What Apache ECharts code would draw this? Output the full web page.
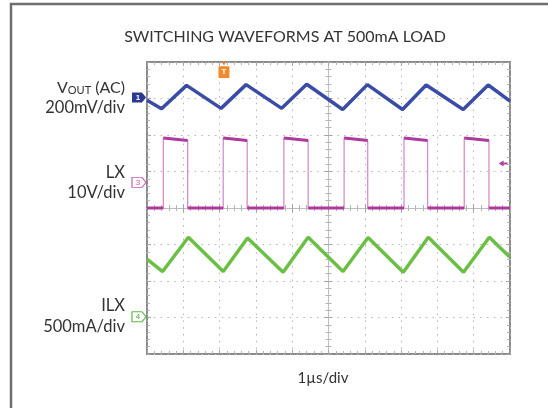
<!DOCTYPE html>
<html><head><meta charset="utf-8">
<script src="https://cdn.jsdelivr.net/npm/echarts@6/dist/echarts.min.js"></script>
<style>html,body{margin:0;padding:0;background:#fff}#c{width:548px;height:408px}</style>
</head><body><div id="c"></div>
<script>
// ---- data (time in µs relative to screen centre, amplitude in divisions from centre) ----
var titleText = 'SWITCHING WAVEFORMS AT 500mA LOAD';
var timeLabel = '1\u00b5s/div';
// VOUT (AC), 200mV/div
var voutT = [-5, -4.60, -3.91, -2.96, -2.27, -1.29, -0.60, 0.39, 1.07, 2.04, 2.69, 3.71, 4.40, 5];
var voutV = [2.95, 2.72, 3.36, 2.73, 3.38, 2.73, 3.39, 2.70, 3.38, 2.70, 3.37, 2.70, 3.37, 2.93];
// LX, 10V/div : switching edges
var lxRise = [-4.55, -2.90, -1.23, 0.43, 2.08, 3.74];
var lxFall = [-3.88, -2.24, -0.56, 1.08, 2.73, 4.42];
var lxHighStart = 1.92, lxHighEnd = 1.85, lxLow = 0.0;
// ILX, 500mA/div
var ilxT = [-5, -4.57, -3.86, -2.90, -2.23, -1.25, -0.56, 0.40, 1.09, 2.06, 2.75, 3.72, 4.43, 5];
var ilxV = [-1.40, -1.74, -0.80, -1.74, -0.82, -1.76, -0.80, -1.74, -0.81, -1.76, -0.80, -1.76, -0.80, -1.35];
// channel ground markers / trigger
var ch1Ground = 3.03, ch3Ground = 0.70, ch4Ground = -2.98;
var trigTime = -2.88, trigLevel = 1.22;

// ---- build series data ----
var voutData = voutT.map(function(t, i){ return [t, voutV[i]]; });
var ilxData = ilxT.map(function(t, i){ return [t, ilxV[i]]; });
var lxFull = [[-5, lxLow]];
var lxLevels = [[-5, lxLow]];
for (var i = 0; i < lxRise.length; i++) {
  lxFull.push([lxRise[i], lxLow], [lxRise[i], lxHighStart], [lxFall[i], lxHighEnd], [lxFall[i], lxLow]);
  lxLevels.push([lxRise[i], lxLow], [lxRise[i], null], [lxRise[i], lxHighStart], [lxFall[i], lxHighEnd], [lxFall[i], null], [lxFall[i], lxLow]);
}
lxFull.push([5, lxLow]);
lxLevels.push([5, lxLow]);

var FONT = 'Lato, "Open Sans", sans-serif';
var gridCol = '#b4b4b4';
function xAx(pos, onZero, show){
  return {type:'value', min:-5, max:5, interval:1, position:pos,
    axisLine:{show:onZero, onZero:onZero, lineStyle:{color:'#bdbdbd', width:1}},
    axisTick:{show:true, inside:true, length:4, lineStyle:{color:'#a5a5a5'}},
    minorTick:{show:true, splitNumber:5, length:3, lineStyle:{color:'#b5b5b5'}},
    axisLabel:{show:false},
    splitLine:{show:show, lineStyle:{color:gridCol, type:[1.5,5.3], width:1}}};
}
function yAx(pos, onZero, show){
  return {type:'value', min:-4, max:4, interval:1, position:pos,
    axisLine:{show:onZero, onZero:onZero, lineStyle:{color:'#bdbdbd', width:1}},
    axisTick:{show:true, inside:true, length:4, lineStyle:{color:'#a5a5a5'}},
    minorTick:{show:true, splitNumber:5, length:3, lineStyle:{color:'#b5b5b5'}},
    axisLabel:{show:false},
    splitLine:{show:show, lineStyle:{color:gridCol, type:[1.5,5.3], width:1}}};
}
var flag = 'path://M0,0 L10,0 L14,5 L10,10 L0,10 Z';
var trig = 'path://M3,0 L9,0 L6,3 Z M1,4 L11,4 Q12,4 12,5 L12,14 Q12,15 11,15 L1,15 Q0,15 0,14 L0,5 Q0,4 1,4 Z';

var chart = echarts.init(document.getElementById('c'), null, {renderer:'canvas'});
chart.setOption({
  animation:false,
  backgroundColor:'#fff',
  title:{text:titleText, left:280, top:24, textAlign:'center',
    textStyle:{fontFamily:FONT, fontSize:16, fontWeight:'normal', color:'#333'}},
  grid:{left:147, top:62, width:363, height:292, show:true, borderColor:'#8a8a8a', borderWidth:2, backgroundColor:'#fff'},
  xAxis:[xAx('bottom', true, true), xAx('top', true, false), xAx('bottom', false, false), xAx('top', false, false)],
  yAxis:[yAx('left', true, true), yAx('right', true, false), yAx('left', false, false), yAx('right', false, false)],
  series:[
    {name:'VOUT', type:'line', data:voutData, showSymbol:false, symbol:'none',
     lineStyle:{color:'#3b4ca6', width:3.5}, z:5,
     markPoint:{symbol:flag, symbolSize:[14,10], symbolOffset:[-8,0], silent:true,
       data:[{coord:[-5, ch1Ground], itemStyle:{color:'#2b3990'},
         label:{show:true, formatter:'1', color:'#fff', fontSize:8, fontWeight:'bold', offset:[-1,0]}}]}},
    {name:'LX edges', type:'line', data:lxFull, showSymbol:false, symbol:'none',
     lineStyle:{color:'#d98ccd', width:1.3}, z:3},
    {name:'LX', type:'line', data:lxLevels, showSymbol:false, symbol:'none', connectNulls:false,
     lineStyle:{color:'#ad3a9c', width:3}, z:4,
     markPoint:{silent:true, data:[
       {coord:[-5, ch3Ground], symbol:flag, symbolSize:[14,10], symbolOffset:[-8,0],
        itemStyle:{color:'#fff', borderColor:'#c45cb5', borderWidth:1},
        label:{show:true, formatter:'3', color:'#c45cb5', fontSize:8, offset:[-1,0]}},
       {coord:[4.81, trigLevel], symbol:'path://M0,3 L5,0 L5,2 L9,2 L9,4 L5,4 L5,6 Z', symbolSize:[9,6],
        itemStyle:{color:'#b0449f'}, label:{show:false}},
       {coord:[trigTime, 4], symbol:trig, symbolSize:[11,16], symbolOffset:[0,8],
        itemStyle:{color:'#f08a2c'},
        label:{show:true, formatter:'T', color:'#fff', fontSize:8, fontWeight:'bold', offset:[0,2]}}
     ]}},
    {name:'ILX', type:'line', data:ilxData, showSymbol:false, symbol:'none',
     lineStyle:{color:'#6cbf45', width:3.5}, z:5,
     markPoint:{symbol:flag, symbolSize:[14,10], symbolOffset:[-8,0], silent:true,
       data:[{coord:[-5, ch4Ground], itemStyle:{color:'#fff', borderColor:'#5cb84a', borderWidth:1},
         label:{show:true, formatter:'4', color:'#4ea83c', fontSize:8, offset:[-1,0]}}]}}
  ],
  graphic:[
    {type:'polyline', shape:{points:[[11,408],[11,4],[548,4]]}, style:{stroke:'#6f6f6f', lineWidth:2.5, fill:null}, z:10},
    {type:'text', x:125, y:88, style:{text:'{v|V}{s|OUT} (AC)', textAlign:'right', textVerticalAlign:'middle',
      fill:'#333', font:'16px '+FONT, rich:{v:{fontSize:16, fontFamily:FONT, fill:'#333'}, s:{fontSize:11, fontFamily:FONT, fill:'#333', padding:[4,0,0,0]}}}},
    {type:'text', x:125, y:108, style:{text:'200mV/div', textAlign:'right', textVerticalAlign:'middle', fill:'#333', font:'16.5px '+FONT}},
    {type:'text', x:125, y:173, style:{text:'LX', textAlign:'right', textVerticalAlign:'middle', fill:'#333', font:'16.5px '+FONT}},
    {type:'text', x:125, y:193, style:{text:'10V/div', textAlign:'right', textVerticalAlign:'middle', fill:'#333', font:'16.5px '+FONT}},
    {type:'text', x:125, y:306, style:{text:'ILX', textAlign:'right', textVerticalAlign:'middle', fill:'#333', font:'16.5px '+FONT}},
    {type:'text', x:125, y:327, style:{text:'500mA/div', textAlign:'right', textVerticalAlign:'middle', fill:'#333', font:'16.5px '+FONT}},
    {type:'text', x:323, y:378, style:{text:timeLabel, textAlign:'center', textVerticalAlign:'middle', fill:'#333', font:'15px '+FONT}}
  ]
});
</script></body></html>
